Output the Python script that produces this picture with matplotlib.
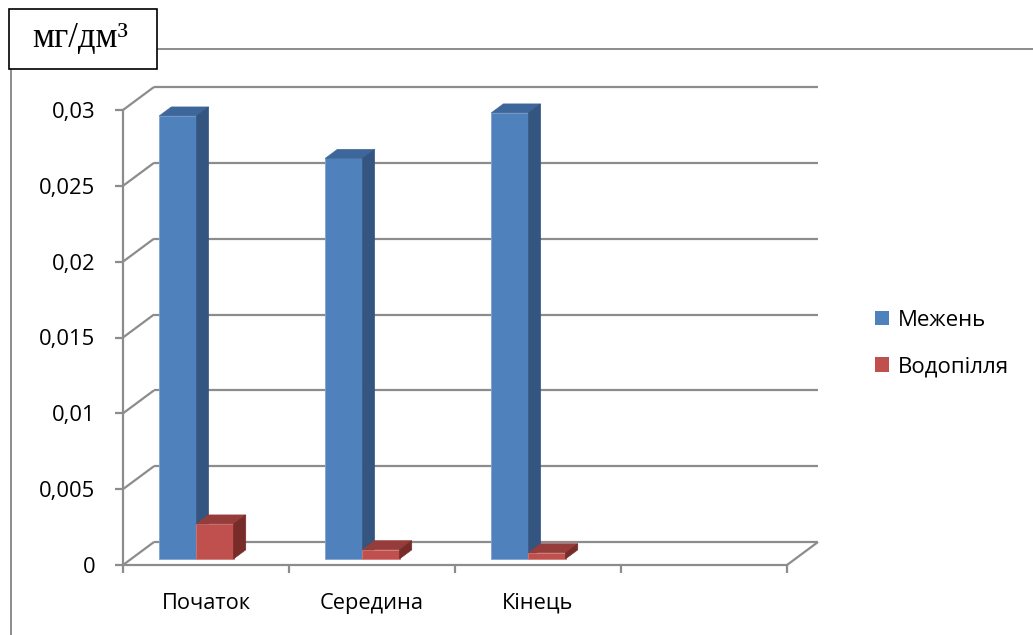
import matplotlib
matplotlib.use("Agg")
import matplotlib.pyplot as plt
from matplotlib.patches import Polygon, Rectangle, Patch
from matplotlib.lines import Line2D
from matplotlib.transforms import IdentityTransform, offset_copy

# ---- data ----
categories = ["Початок", "Середина", "Кінець", ""]
series_names = ["Межень", "Водопілля"]
mezhen = [0.0292, 0.0264, 0.0294, None]
vodopillia = [0.0023, 0.0006, 0.0004, None]
y_ticks = [0, 0.005, 0.01, 0.015, 0.02, 0.025, 0.03]
y_tick_labels = ["0", "0,005", "0,01", "0,015", "0,02", "0,025", "0,03"]
unit_label = "мг/дм³"

# ---- style ----
W, H, DPI = 1033, 635, 100
GRID = "#8c8c8c"
FACE = {"Межень": ("#4f81bd", "#3d679b", "#33557f"),
        "Водопілля": ("#c0504d", "#963c3a", "#782c2a")}
SANS = "Open Sans"
SERIF = "Liberation Serif"

# oblique depth of the floor / back wall, in pixels
DEPTH_DX, DEPTH_DY = 31, 23
BAR_D0, BAR_D1 = 0.27, 0.66
SLOTS = [(0.168, 0.392), (0.392, 0.616)]

fig = plt.figure(figsize=(W / DPI, H / DPI), dpi=DPI)
fig.patch.set_facecolor("white")


def fx(px):
    return px / W


def fy(py):
    return 1 - py / H


ax = fig.add_axes([fx(123), fy(565), (787 - 123) / W, (565 - 110) / H])
ax.set_xlim(0, len(categories))
ax.set_ylim(y_ticks[0], y_ticks[-1])
ax.patch.set_visible(False)
for s in ("top", "right"):
    ax.spines[s].set_visible(False)
for s in ("left", "bottom"):
    ax.spines[s].set_color(GRID)
    ax.spines[s].set_linewidth(1.6)

ax.set_yticks(y_ticks)
ax.set_yticklabels(y_tick_labels, fontfamily=SANS, fontsize=15.8)
ax.set_xticks(range(len(categories) + 1))
ax.set_xticklabels([])
ax.set_xticks([i + 0.5 for i in range(len(categories))], minor=True)
ax.set_xticklabels(categories, minor=True, fontfamily=SANS, fontsize=15.7)
ax.tick_params(which="major", length=6, width=1.6, color=GRID, direction="out")
ax.tick_params(axis="y", pad=14)
ax.tick_params(axis="x", which="minor", length=0, pad=20)


def proj(x, v, d):
    X, Y = ax.transData.transform((x, v))
    return (X + d * DEPTH_DX, Y + d * DEPTH_DY)


def seg(p, q, z=1):
    ln = Line2D([p[0], q[0]], [p[1], q[1]], transform=IdentityTransform(),
                color=GRID, lw=1.6, zorder=z, clip_on=False,
                solid_capstyle="butt")
    ax.add_line(ln)


xmax = len(categories)
# back wall gridlines and their side-wall diagonals
for t in y_ticks:
    seg(proj(0, t, 1), proj(xmax, t, 1))
    seg(proj(0, t, 0), proj(0, t, 1))
# right edge of the floor
seg(proj(xmax, 0, 0), proj(xmax, 0, 1))


def face(pts, color, z):
    ax.add_patch(Polygon(pts, closed=True, transform=IdentityTransform(),
                         facecolor=color, edgecolor=color, lw=0.5,
                         zorder=z, clip_on=False))


front_tr = offset_copy(ax.transData, fig=fig, x=BAR_D0 * DEPTH_DX,
                       y=BAR_D0 * DEPTH_DY, units="dots")

for i in range(len(categories)):
    for k, (name, vals) in enumerate(zip(series_names, (mezhen, vodopillia))):
        v = vals[i]
        if v is None:
            continue
        front, top, side = FACE[name]
        x0, x1 = i + SLOTS[k][0], i + SLOTS[k][1]
        z = 10 + 2 * i + k
        ax.bar(x0, v, width=x1 - x0, align="edge", color=front,
               edgecolor="#7fa3d1" if k == 0 else "#d07b78", linewidth=0.6,
               transform=front_tr, zorder=z, clip_on=False)
        face([proj(x0, v, BAR_D0), proj(x1, v, BAR_D0),
              proj(x1, v, BAR_D1), proj(x0, v, BAR_D1)], top, z)
        face([proj(x1, 0, BAR_D0), proj(x1, 0, BAR_D1),
              proj(x1, v, BAR_D1), proj(x1, v, BAR_D0)], side, z)

# legend
handles = [Patch(facecolor=FACE[n][0], edgecolor="none") for n in series_names]
fig.legend(handles, series_names, loc="upper left",
           bbox_to_anchor=(fx(866), fy(301)), frameon=False,
           prop={"family": SANS, "size": 16}, handlelength=0.65,
           handleheight=0.65, handletextpad=0.4, labelspacing=1.15,
           borderaxespad=0)

# unit caption box and chart-area border
fig.add_artist(Rectangle((fx(9), fy(69)), fx(157) - fx(9), fy(9) - fy(69),
                         transform=fig.transFigure, facecolor="white",
                         edgecolor="black", lw=1.2, zorder=5))
fig.text(fx(80), fy(39), unit_label, ha="center", va="center",
         fontfamily=SERIF, fontsize=25, zorder=6)
fig.add_artist(Line2D([fx(11), fx(11)], [fy(69), 0], transform=fig.transFigure,
                      color=GRID, lw=1.4))
fig.add_artist(Line2D([fx(157), 1], [fy(49), fy(49)], transform=fig.transFigure,
                      color=GRID, lw=1.4))

fig.savefig("out.png", dpi=DPI, facecolor="white")
